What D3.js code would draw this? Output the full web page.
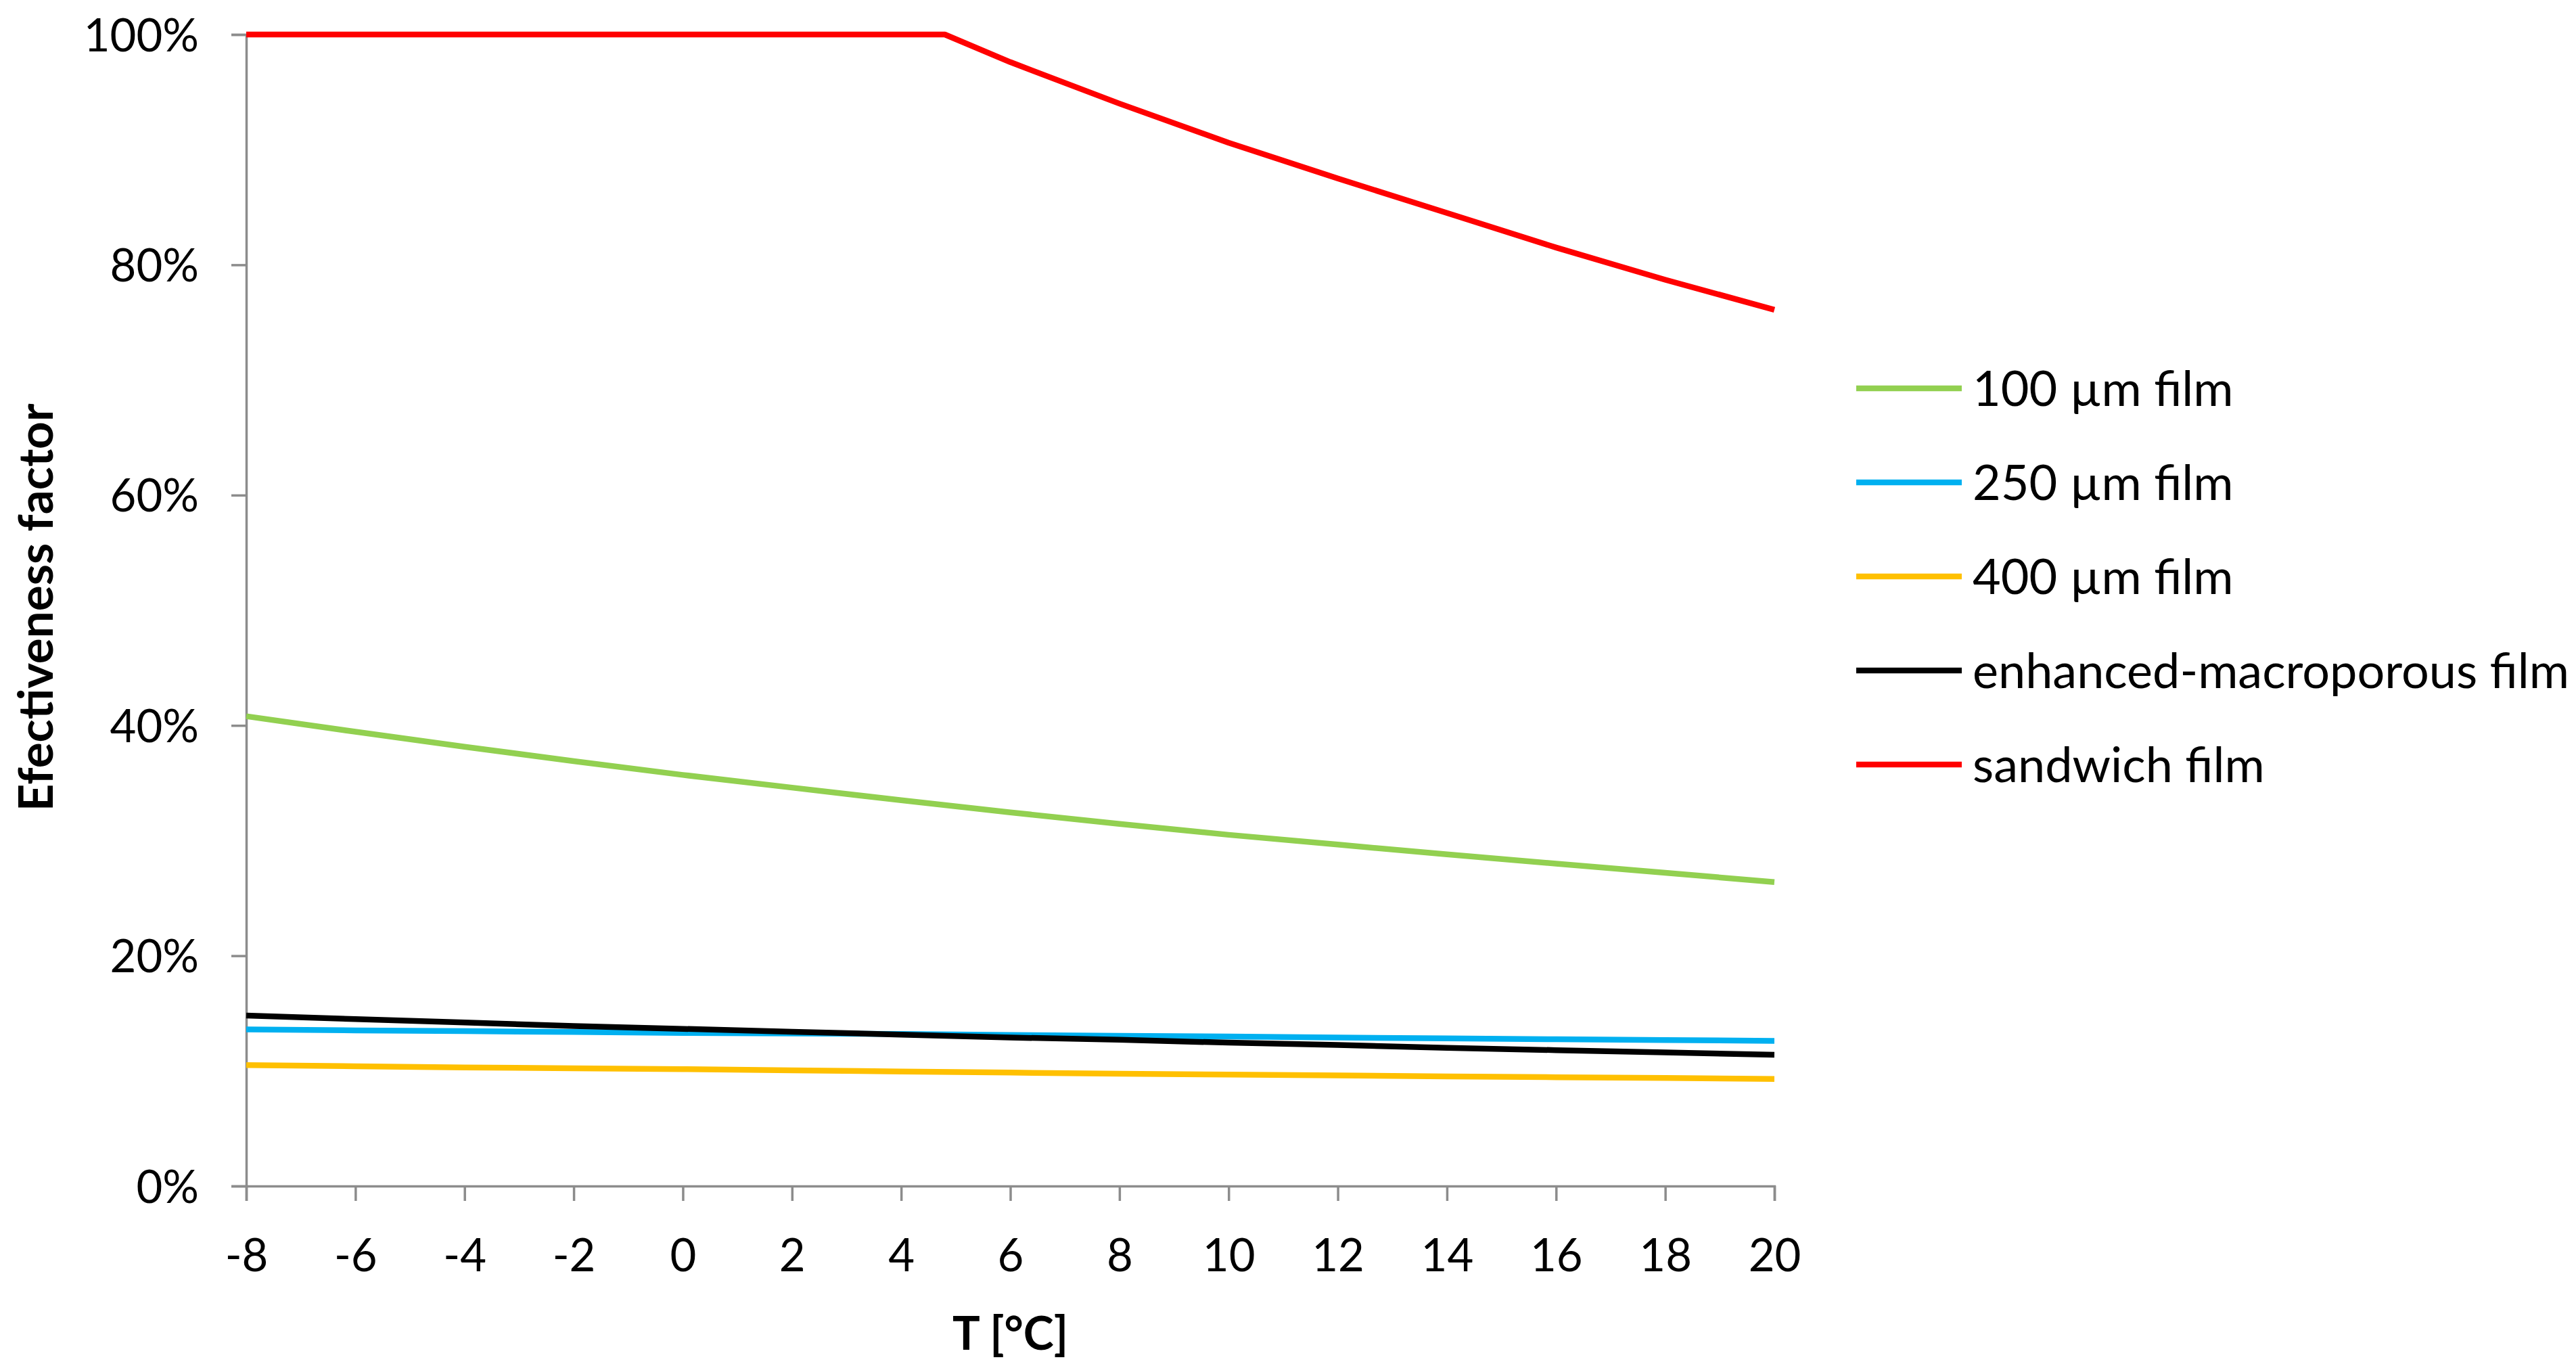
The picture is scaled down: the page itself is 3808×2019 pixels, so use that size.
<!DOCTYPE html>
<html>
<head>
<meta charset="utf-8">
<script src="https://cdn.jsdelivr.net/npm/d3@7"></script>
<style>
  html, body { margin: 0; padding: 0; background: #ffffff; }
  svg { display: block; }
  text { font-family: Lato, "Open Sans", sans-serif; fill: #000; }
</style>
</head>
<body>
<script>
// ---- data ----
const temps = [-8, -6, -4, -2, 0, 2, 4, 6, 8, 10, 12, 14, 16, 18, 20];
const sandwichTemps = [-8, -6, -4, -2, 0, 2, 4, 4.8, 6, 8, 10, 12, 14, 16, 18, 20];
const film100 = [40.8, 39.45, 38.15, 36.9, 35.7, 34.6, 33.5, 32.45, 31.45, 30.5, 29.65, 28.8, 28.0, 27.2, 26.4];
const film250 = [13.6, 13.52, 13.45, 13.38, 13.3, 13.25, 13.2, 13.12, 13.05, 12.98, 12.9, 12.82, 12.75, 12.68, 12.6];
const film400 = [10.5, 10.4, 10.3, 10.22, 10.15, 10.05, 9.95, 9.85, 9.75, 9.68, 9.6, 9.52, 9.45, 9.38, 9.3];
const macroFilm = [14.8, 14.5, 14.2, 13.9, 13.65, 13.4, 13.15, 12.9, 12.7, 12.45, 12.25, 12.0, 11.8, 11.6, 11.4];
const sandwichFilm = [100, 100, 100, 100, 100, 100, 100, 100, 97.6, 94.0, 90.6, 87.5, 84.5, 81.5, 78.7, 76.1];
const seriesNames = ["100 µm film", "250 µm film", "400 µm film", "enhanced-macroporous film", "sandwich film"];
const seriesColors = ["#92D050", "#00B0F0", "#FFC000", "#000000", "#FF0000"];
const xTicks = [-8, -6, -4, -2, 0, 2, 4, 6, 8, 10, 12, 14, 16, 18, 20];
const yTicks = [0, 20, 40, 60, 80, 100];
const xTitle = "T [°C]";
const yTitle = "Efectiveness factor";

// ---- layout ----
const W = 3808, H = 2019;
const mLeft = 364, mRight = 2623, mTop = 51, mBottom = 1753;
const axisColor = "#8c8c8c";
const lineW = 8.5;

const svg = d3.select("body").append("svg")
  .attr("width", W).attr("height", H)
  .attr("viewBox", `0 0 ${W} ${H}`);
svg.append("rect").attr("width", W).attr("height", H).attr("fill", "#fff");

const x = d3.scaleLinear().domain([-8, 20]).range([mLeft, mRight]);
const y = d3.scaleLinear().domain([0, 100]).range([mBottom, mTop]);

// axes
const xAxis = svg.append("g").attr("transform", `translate(0,${mBottom})`)
  .call(d3.axisBottom(x).tickValues(xTicks).tickSize(22).tickPadding(56).tickFormat(d => String(d)));
const yAxis = svg.append("g").attr("transform", `translate(${mLeft},0)`)
  .call(d3.axisLeft(y).tickValues(yTicks).tickSize(22).tickPadding(48).tickFormat(d => d + "%"));

[xAxis, yAxis].forEach(g => {
  g.select(".domain").attr("stroke", axisColor).attr("stroke-width", 3.5);
  g.selectAll(".tick line").attr("stroke", axisColor).attr("stroke-width", 3.5);
  g.selectAll(".tick text").attr("font-size", 67).attr("font-family", "Lato").attr("fill", "#000");
});
xAxis.selectAll(".tick text").attr("dy", "0.71em");
yAxis.selectAll(".tick text").attr("dy", "0.36em");

// series
const seriesData = [
  temps.map((t, i) => [t, film100[i]]),
  temps.map((t, i) => [t, film250[i]]),
  temps.map((t, i) => [t, film400[i]]),
  temps.map((t, i) => [t, macroFilm[i]]),
  sandwichTemps.map((t, i) => [t, sandwichFilm[i]])
];
const line = d3.line().x(d => x(d[0])).y(d => y(d[1]));
svg.append("g").selectAll("path").data(seriesData).join("path")
  .attr("d", line)
  .attr("fill", "none")
  .attr("stroke", (d, i) => seriesColors[i])
  .attr("stroke-width", lineW)
  .attr("stroke-linejoin", "round");

// titles
svg.append("text")
  .attr("x", (mLeft + mRight) / 2).attr("y", 1995)
  .attr("text-anchor", "middle")
  .attr("font-size", 68).attr("font-weight", "bold")
  .text(xTitle);
svg.append("text")
  .attr("transform", `translate(78,898) rotate(-90)`)
  .attr("text-anchor", "middle")
  .attr("font-size", 71).attr("font-weight", "bold")
  .text(yTitle);

// legend
const legend = svg.append("g").attr("transform", "translate(2744,574)");
const items = legend.selectAll("g").data(seriesNames).join("g")
  .attr("transform", (d, i) => `translate(0,${i * 139})`);
items.append("line")
  .attr("x1", 0).attr("x2", 156).attr("y1", 0).attr("y2", 0)
  .attr("stroke", (d, i) => seriesColors[i]).attr("stroke-width", lineW);
items.append("text")
  .attr("x", 172).attr("y", 0).attr("dy", "0.36em")
  .attr("font-size", 72)
  .text(d => d);
</script>
</body>
</html>
